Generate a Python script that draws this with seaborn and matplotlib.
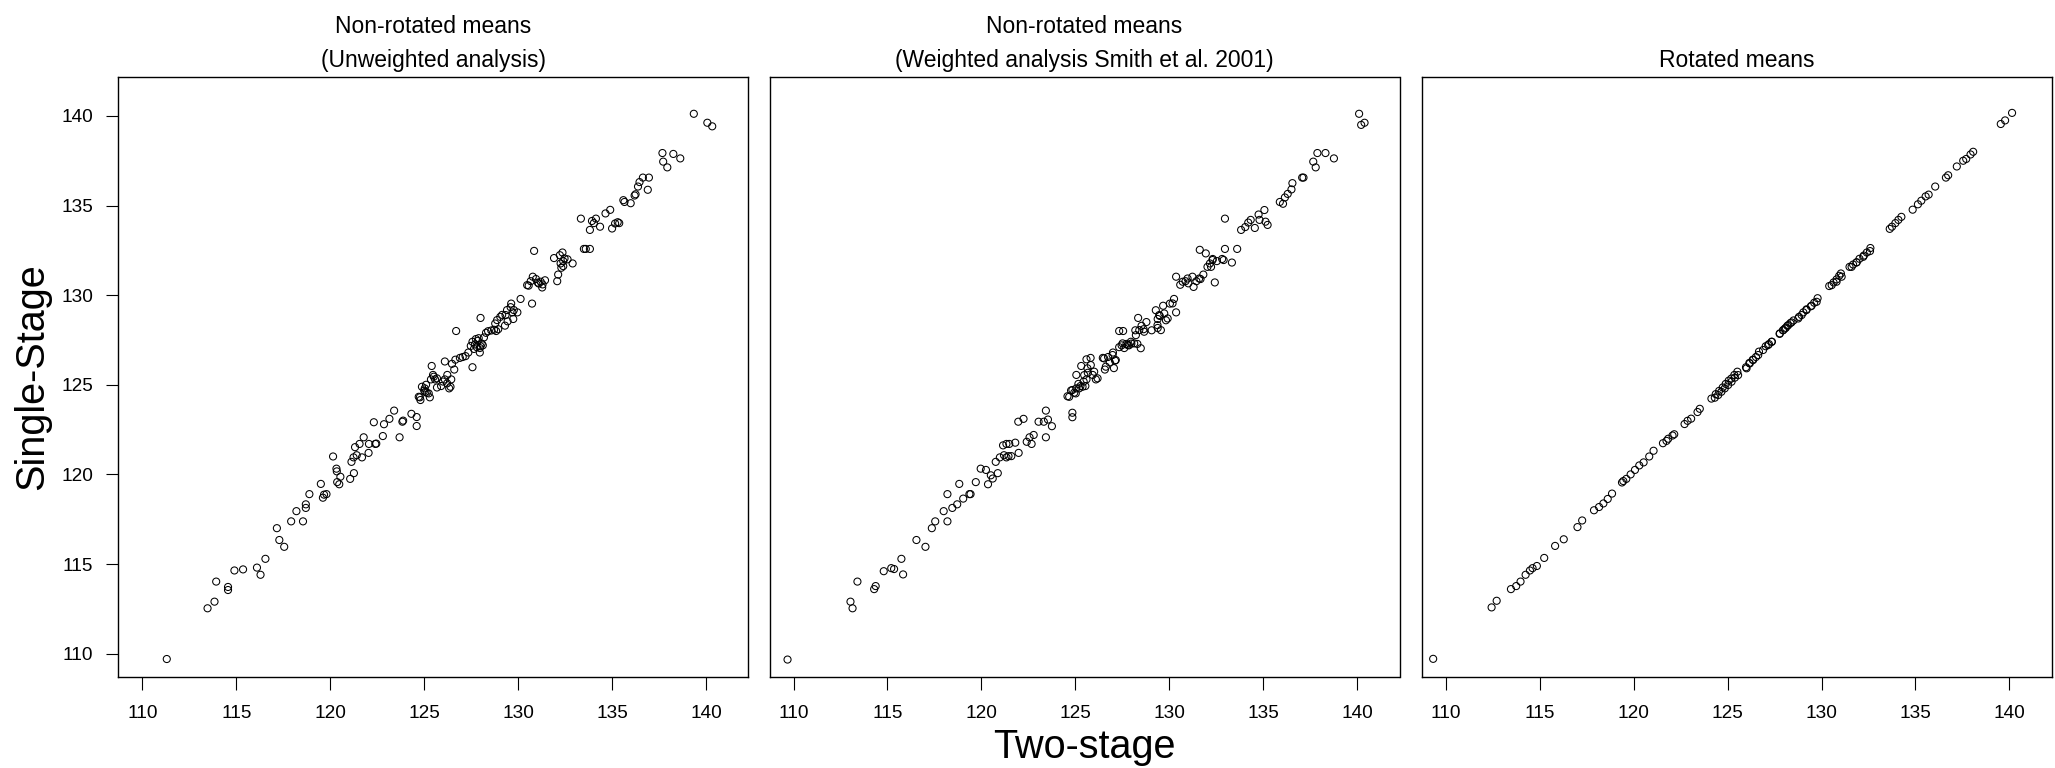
import matplotlib
matplotlib.use("Agg")
import matplotlib.pyplot as plt
import seaborn as sns
import pandas as pd

# ---------------- data ----------------
x_unweighted = [
    111.30, 113.47, 113.84, 113.93, 114.56, 114.56, 114.90, 115.36, 116.10, 116.29,
    116.55, 117.16, 117.29, 117.55, 117.92, 118.20, 118.55, 118.70, 118.70, 118.89,
    119.50, 119.61, 119.67, 119.80, 120.15, 120.33, 120.35, 120.37, 120.48, 120.54,
    121.06, 121.26, 121.13, 121.24, 121.41, 121.32, 121.56, 121.69, 121.78, 122.04,
    122.06, 122.32, 122.40, 122.45, 122.80, 122.86, 123.15, 123.40, 123.69, 123.84,
    123.88, 124.32, 124.60, 124.60, 124.77, 124.80, 125.00, 125.03, 125.10, 125.14,
    125.30, 125.36, 125.40, 125.47, 125.58, 125.68, 125.90, 126.00, 126.10, 126.10,
    126.23, 126.33, 126.44, 126.48, 126.60, 126.66, 126.70, 126.90, 127.05, 127.20,
    127.35, 127.57, 127.48, 127.57, 127.70, 127.80, 127.85, 127.96, 128.06, 128.12,
    127.96, 128.00, 128.18, 128.29, 128.40, 128.57, 128.72, 128.83, 128.94, 128.78,
    129.05, 129.15, 129.30, 129.44, 129.60, 129.63, 129.70, 129.74, 129.96, 130.13,
    130.56, 130.67, 130.78, 130.74, 130.85, 130.95, 131.05, 131.20, 131.30, 131.43,
    131.91, 132.08, 132.13, 132.26, 132.30, 132.36, 132.40, 132.63, 132.90, 133.34,
    133.50, 133.60, 133.82, 133.82, 133.93, 134.03, 134.14, 134.36, 134.65, 134.90,
    135.00, 135.16, 135.30, 135.38, 135.60, 135.66, 135.99, 136.20, 136.25, 136.38,
    136.46, 136.64, 136.96, 136.90, 137.68, 137.72, 137.94, 138.26, 138.63, 139.35,
    140.07, 140.33,
    127.75, 127.90, 128.00, 127.65, 124.88, 125.06, 124.71, 125.24, 125.51, 125.68,
    126.22, 126.40, 129.41, 129.77, 129.33, 128.88, 130.48, 131.10, 131.28, 132.22,
    132.47, 132.40,
]
y_unweighted = [
    109.70, 112.53, 112.90, 114.02, 113.72, 113.55, 114.64, 114.70, 114.80, 114.40,
    115.29, 117.00, 116.34, 115.96, 117.38, 117.95, 117.38, 118.33, 118.13, 118.90,
    119.47, 118.70, 118.87, 118.90, 121.00, 120.32, 120.17, 119.57, 119.45, 119.87,
    119.75, 120.07, 120.70, 120.95, 121.07, 121.52, 121.70, 120.95, 122.07, 121.20,
    121.70, 122.91, 121.70, 121.72, 122.14, 122.80, 123.10, 123.56, 122.07, 122.94,
    123.00, 123.38, 123.20, 122.70, 124.30, 124.15, 124.68, 124.80, 125.00, 124.55,
    124.30, 125.30, 126.05, 125.55, 125.30, 124.85, 124.93, 125.18, 126.30, 125.30,
    125.55, 124.80, 125.30, 126.17, 125.85, 126.40, 128.00, 126.50, 126.55, 126.60,
    126.80, 125.98, 127.17, 127.40, 127.25, 127.10, 127.45, 127.05, 127.30, 127.20,
    126.80, 128.73, 127.64, 127.90, 127.99, 128.03, 128.07, 128.00, 128.10, 128.42,
    128.79, 128.90, 128.30, 128.54, 129.33, 129.53, 129.04, 128.67, 129.04, 129.79,
    130.53, 130.78, 131.03, 129.53, 132.47, 130.90, 130.70, 130.75, 130.60, 130.83,
    132.07, 130.78, 131.15, 131.77, 131.53, 132.38, 131.90, 132.00, 131.77, 134.27,
    132.58, 132.58, 132.58, 133.64, 134.14, 134.02, 134.27, 133.82, 134.56, 134.76,
    133.72, 134.00, 134.07, 134.02, 135.30, 135.20, 135.13, 135.56, 135.63, 136.06,
    136.31, 136.56, 136.56, 135.88, 137.93, 137.45, 137.13, 137.88, 137.63, 140.12,
    139.62, 139.42,
    127.55, 127.60, 127.15, 127.00, 124.89, 124.61, 124.33, 124.52, 125.45, 125.36,
    125.08, 124.89, 129.17, 129.17, 128.89, 128.61, 130.56, 130.65, 130.43, 132.23,
    132.05, 131.62,
]

x_weighted = [
    109.68, 113.03, 113.14, 113.40, 114.29, 114.37, 114.80, 115.20, 115.35, 115.74,
    115.83, 116.54, 117.02, 117.36, 117.54, 117.99, 118.19, 118.19, 118.45, 118.71,
    118.82, 119.03, 119.36, 119.42, 119.70, 119.96, 120.24, 120.35, 120.50, 120.60,
    120.76, 120.87, 120.98, 121.15, 121.33, 121.48, 121.20, 121.33, 121.44, 121.59,
    121.80, 121.98, 121.96, 122.24, 122.41, 122.56, 122.67, 122.78, 123.04, 123.32,
    123.43, 123.54, 123.75, 123.43, 124.58, 124.84, 124.84, 124.77, 124.94, 125.05,
    125.16, 125.27, 125.05, 125.31, 125.44, 125.53, 125.59, 125.66, 125.59, 125.81,
    125.92, 126.09, 126.46, 126.57, 126.74, 126.83, 127.00, 127.05, 127.11, 127.33,
    127.54, 127.33, 127.46, 127.60, 127.72, 127.85, 127.98, 128.19, 128.30, 128.48,
    128.34, 128.52, 128.63, 128.78, 129.06, 129.38, 129.28, 129.49, 129.38, 129.67,
    129.82, 130.03, 130.25, 130.36, 130.36, 130.58, 130.86, 131.01, 131.23, 131.29,
    131.44, 131.66, 131.62, 131.94, 131.81, 132.03, 132.16, 132.31, 132.42, 132.53,
    132.81, 132.96, 132.96, 133.33, 133.61, 133.82, 134.04, 134.20, 134.33, 134.55,
    134.75, 135.06, 134.80, 135.12, 135.23, 135.88, 136.05, 136.15, 136.30, 136.50,
    136.55, 137.07, 137.14, 137.66, 137.79, 137.88, 138.31, 138.76, 140.10, 140.21,
    140.39,
    124.67, 124.84, 125.02, 125.20, 125.38, 125.47, 125.64, 125.82, 126.00, 126.18,
    126.53, 126.98, 126.62, 127.15, 127.51, 127.78, 127.95, 128.13, 128.22, 128.40,
    128.66, 129.37, 129.55, 129.46, 129.73, 130.17, 129.91, 130.71, 130.97, 131.59,
    132.30, 132.22, 132.89,
]
y_weighted = [
    109.67, 112.90, 112.53, 114.02, 113.60, 113.77, 114.60, 114.77, 114.72, 115.29,
    114.42, 116.34, 115.96, 117.00, 117.38, 117.95, 118.90, 117.38, 118.13, 118.33,
    119.47, 118.65, 118.90, 118.90, 119.57, 120.32, 120.25, 119.45, 119.95, 119.77,
    120.70, 120.07, 120.95, 121.62, 121.70, 121.70, 121.07, 120.95, 121.02, 121.02,
    121.77, 121.20, 122.94, 123.10, 121.82, 122.07, 121.70, 122.20, 122.94, 122.94,
    123.56, 123.06, 122.69, 122.07, 124.36, 123.44, 123.19, 124.68, 124.56, 124.80,
    125.05, 124.93, 125.55, 126.05, 125.18, 124.93, 125.30, 125.67, 126.42, 126.50,
    125.55, 125.30, 126.50, 125.85, 126.55, 126.25, 126.80, 125.93, 126.35, 128.00,
    128.00, 127.10, 127.20, 127.05, 127.28, 127.20, 127.30, 128.04, 127.28, 127.04,
    128.73, 128.29, 128.10, 128.50, 128.04, 128.17, 129.16, 128.84, 128.67, 129.41,
    128.60, 129.53, 129.79, 129.04, 131.03, 130.58, 130.78, 130.66, 131.03, 130.46,
    130.78, 130.90, 132.53, 132.33, 131.15, 131.58, 131.77, 132.02, 130.71, 131.90,
    132.02, 134.27, 132.58, 131.82, 132.58, 133.64, 133.80, 134.05, 134.20, 133.75,
    134.50, 134.75, 134.20, 134.10, 133.92, 135.20, 135.10, 135.45, 135.65, 135.90,
    136.25, 136.56, 136.56, 137.45, 137.13, 137.93, 137.93, 137.63, 140.12, 139.50,
    139.62,
    124.33, 124.71, 124.52, 124.80, 124.89, 125.54, 125.92, 126.10, 125.73, 125.36,
    126.47, 126.66, 126.01, 126.38, 127.31, 127.22, 127.40, 127.31, 127.77, 128.05,
    127.96, 128.33, 128.05, 128.89, 128.98, 129.54, 128.70, 130.75, 130.93, 130.93,
    131.96, 131.58, 131.96,
]

x_rotated = [
    109.33, 112.44, 112.71, 113.47, 113.75, 113.98, 114.25, 114.48, 114.62, 114.85,
    115.24, 115.82, 116.28, 117.01, 117.26, 117.89, 118.16, 118.39, 118.62, 118.85,
    119.38, 119.45, 119.61, 119.84, 120.07, 120.30, 120.53, 120.83, 121.06, 121.56,
    121.75, 121.84, 122.07, 122.16, 122.71, 122.87, 123.06, 123.40, 123.52, 124.14,
    124.37, 124.55, 124.74, 124.90, 125.06, 125.20, 125.36, 125.52, 125.98, 126.16,
    126.34, 126.51, 126.67, 127.03, 127.20, 127.36, 127.77, 127.95, 128.05, 128.18,
    128.34, 128.51, 128.80, 129.03, 129.20, 129.43, 129.61, 129.79, 130.41, 130.64,
    130.80, 130.94, 131.03, 131.49, 131.68, 131.86, 132.02, 132.25, 132.41, 132.60,
    133.63, 133.75, 133.93, 134.09, 134.25, 134.85, 135.13, 135.31, 135.54, 135.70,
    136.05, 136.62, 136.74, 137.20, 137.54, 137.70, 137.93, 138.07, 139.54, 139.77,
    140.14,
    124.32, 124.50, 124.67, 124.85, 125.03, 125.21, 125.39, 125.56, 126.01, 126.18,
    126.36, 126.63, 126.89, 127.16, 127.34, 127.78, 127.96, 128.10, 128.23, 128.40,
    128.76, 128.94, 129.20, 129.47, 129.74, 130.54, 130.80, 131.07, 131.60, 131.87,
    132.22, 132.58,
]
y_rotated = [
    109.71, 112.58, 112.95, 113.60, 113.77, 114.02, 114.40, 114.64, 114.77, 114.89,
    115.34, 116.01, 116.38, 117.06, 117.43, 118.00, 118.18, 118.38, 118.63, 118.93,
    119.55, 119.63, 119.75, 120.00, 120.25, 120.50, 120.67, 121.00, 121.32, 121.74,
    121.87, 121.99, 122.17, 122.24, 122.81, 122.99, 123.11, 123.48, 123.66, 124.23,
    124.48, 124.66, 124.85, 125.05, 125.23, 125.35, 125.55, 125.73, 125.98, 126.22,
    126.40, 126.55, 126.85, 127.15, 127.27, 127.40, 127.84, 128.04, 128.14, 128.29,
    128.44, 128.59, 128.79, 129.04, 129.21, 129.38, 129.58, 129.83, 130.51, 130.71,
    130.88, 131.08, 131.21, 131.58, 131.71, 131.83, 132.03, 132.21, 132.38, 132.63,
    133.70, 133.82, 134.02, 134.20, 134.37, 134.77, 135.07, 135.27, 135.51, 135.61,
    136.06, 136.56, 136.69, 137.18, 137.50, 137.60, 137.85, 138.00, 139.55, 139.75,
    140.17,
    124.28, 124.43, 124.61, 124.80, 124.99, 125.17, 125.40, 125.54, 125.92, 126.19,
    126.38, 126.66, 126.94, 127.22, 127.40, 127.87, 128.05, 128.18, 128.33, 128.48,
    128.70, 128.89, 129.17, 129.41, 129.63, 130.56, 130.75, 131.03, 131.58, 131.83,
    132.14, 132.46,
]

panel_titles = [
    "Non-rotated means\n(Unweighted analysis)",
    "Non-rotated means\n(Weighted analysis Smith et al. 2001)",
    "Rotated means",
]
tick_values = [110, 115, 120, 125, 130, 135, 140]
x_label = "Two-stage"
y_label = "Single-Stage"

# ---------------- figure ----------------
sns.set_style("white")
plt.rcParams["font.family"] = ["Liberation Sans", "DejaVu Sans"]

W, H = 2055, 768
fig = plt.figure(figsize=(W / 100, H / 100), dpi=100)

panels = [
    (x_unweighted, y_unweighted),
    (x_weighted, y_weighted),
    (x_rotated, y_rotated),
]
lefts_px = [118.3, 769.5, 1421.7]
ax_w_px, ax_top_px, ax_bot_px = 630.0, 76.5, 677.3

for i, ((xs, ys), title, lpx) in enumerate(zip(panels, panel_titles, lefts_px)):
    ax = fig.add_axes([lpx / W, 1 - ax_bot_px / H, ax_w_px / W, (ax_bot_px - ax_top_px) / H])
    df = pd.DataFrame({"two_stage": xs, "single_stage": ys})
    sns.scatterplot(data=df, x="two_stage", y="single_stage", ax=ax,
                    marker="o", s=26, facecolor="none", edgecolor="black",
                    linewidth=0.75, legend=False)
    ax.set_xlim(108.72, 142.25)
    ax.set_ylim(108.68, 142.2)
    ax.set_xticks(tick_values)
    ax.tick_params(axis="x", bottom=True, direction="out", length=9.1, width=0.8,
                   color="black", pad=10.5, labelsize=13.7, labelcolor="black")
    if i == 0:
        ax.set_yticks(tick_values)
        ax.tick_params(axis="y", left=True, direction="out", length=8.4, width=0.8,
                       color="black", pad=9.6, labelsize=13.7, labelcolor="black")
    else:
        ax.set_yticks([])
    ax.set_xlabel("")
    ax.set_ylabel("")
    for sp in ax.spines.values():
        sp.set_color("black")
        sp.set_linewidth(1.0)
    ax.set_title(title, fontsize=16.5, pad=7, linespacing=1.6, color="black")

fig.text(1084.5 / W, 1 - 758 / H, x_label, ha="center", va="baseline",
         fontsize=28.5, color="black")
fig.text(31.7 / W, 1 - 376.5 / H, y_label, rotation=90, ha="center", va="center",
         fontsize=28.5, color="black")

fig.savefig("out.png", dpi=100, facecolor="white")
